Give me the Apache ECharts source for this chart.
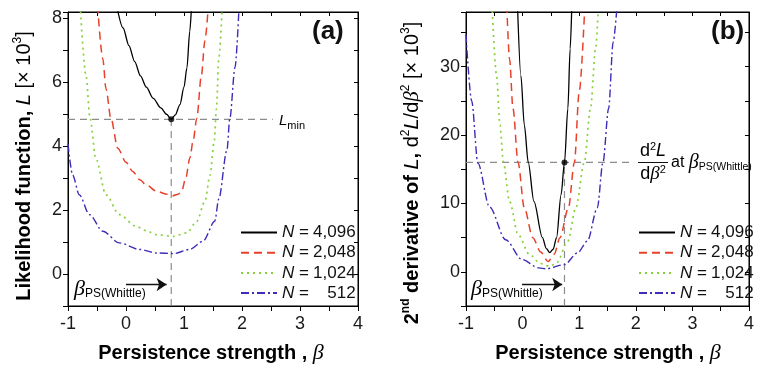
<!DOCTYPE html>
<html><head><meta charset="utf-8">
<script src="https://cdn.jsdelivr.net/npm/echarts@6/dist/echarts.min.js"></script>
<style>html,body{margin:0;padding:0;background:#fff}#c{width:757px;height:365px}</style>
</head><body><div id="c"></div>
<script>
const SANS = 'Liberation Sans, Arial, Helvetica, sans-serif';
const SERIF = 'Liberation Serif, Times New Roman, serif';

// ---- data ----
const xTicks = [-1, 0, 1, 2, 3, 4];
const legendLabels = ['4,096', '2,048', '1,024', '512'];

// Panel (a): likelihood function L [x10^3]
const aX4096 = [-0.16, -0.05, 0.05, 0.15, 0.25, 0.35, 0.47, 0.6, 0.7, 0.78, 0.85, 0.93, 1.0, 1.05, 1.1, 1.13];
const aY4096 = [8.4, 7.7, 7.15, 6.65, 6.2, 5.85, 5.5, 5.2, 5.0, 4.84, 4.98, 5.3, 5.85, 6.45, 7.6, 8.4];
const aX2048 = [-0.49, -0.4, -0.345, -0.26, -0.14, 0.0, 0.115, 0.24, 0.345, 0.53, 0.7, 0.8, 0.9, 0.96, 1.03, 1.10, 1.16, 1.22, 1.30, 1.36, 1.42];
const aY2048 = [8.4, 6.74, 5.8, 4.87, 3.93, 3.5, 3.21, 2.95, 2.79, 2.59, 2.5, 2.45, 2.5, 2.6, 3.0, 3.62, 4.2, 4.87, 6.22, 7.3, 8.4];
const aX1024 = [-0.79, -0.69, -0.62, -0.52, -0.345, -0.115, 0.17, 0.345, 0.53, 0.82, 1.05, 1.22, 1.36, 1.45, 1.52, 1.56, 1.60, 1.66];
const aY1024 = [8.4, 6.22, 4.87, 3.62, 2.48, 1.86, 1.50, 1.36, 1.23, 1.18, 1.29, 1.65, 2.27, 3.10, 4.14, 5.18, 6.74, 8.4];
const aX512 = [-1, -0.92, -0.805, -0.63, -0.40, -0.115, 0.23, 0.53, 0.82, 1.10, 1.33, 1.53, 1.60, 1.74, 1.79, 1.88, 1.95];
const aY512 = [4.08, 3.10, 2.48, 1.86, 1.34, 0.975, 0.77, 0.66, 0.64, 0.77, 1.03, 1.65, 2.35, 3.87, 4.86, 6.47, 8.4];
const aBeta = 0.78, aLmin = 4.84, aRefEnd = 2.53, aArrowY = -0.33, aArrowX = [0.0, 0.70];

// Panel (b): second derivative d2L/dbeta2 [x10^3]
const bX4096 = [-0.09, -0.03, 0.03, 0.10, 0.20, 0.35, 0.42, 0.48, 0.54, 0.60, 0.68, 0.74, 0.80, 0.84, 0.87];
const bY4096 = [39, 28.7, 21.5, 16.0, 10.3, 5.0, 3.4, 2.8, 3.3, 5.0, 11.3, 16.0, 23.9, 32.6, 39];
const bX2048 = [-0.28, -0.23, -0.17, -0.08, 0.03, 0.18, 0.32, 0.45, 0.56, 0.66, 0.81, 0.915, 1.0, 1.10];
const bY2048 = [39, 31.1, 23.9, 16.0, 9.35, 5.0, 2.9, 1.5, 2.6, 5.0, 9.35, 16.0, 26.3, 39];
const bX1024 = [-0.54, -0.46, -0.40, -0.34, -0.23, -0.08, 0.12, 0.30, 0.40, 0.48, 0.60, 0.80, 0.94, 1.09, 1.20, 1.29, 1.34];
const bY1024 = [39, 28.7, 21.5, 16.0, 10.3, 5.47, 2.56, 1.3, 0.95, 0.8, 1.3, 4.5, 9.35, 16.0, 23.9, 32.6, 39];
const bX512 = [-1, -0.90, -0.79, -0.585, -0.30, -0.01, 0.28, 0.42, 0.74, 0.97, 1.145, 1.32, 1.42, 1.52, 1.60, 1.67];
const bY512 = [34.7, 25.0, 15.9, 9.5, 4.7, 1.8, 0.58, 0.44, 1.06, 2.76, 4.5, 9.35, 16.0, 23.9, 33.6, 39];
const bBeta = 0.74, bD2 = 16, bRefEnd = 1.92, bArrowY = -1.85, bArrowX = [-0.01, 0.70];

// ---- helpers ----
const zip = (xs, ys) => xs.map((x, i) => [x, ys[i]]);
const styles = [
  {color: '#000000', type: 'solid', width: 1.3},
  {color: '#e8412a', type: [8, 5], width: 1.5},
  {color: '#86d13a', type: [2, 4], width: 1.7},
  {color: '#3b2db8', type: [8, 3, 2, 3], width: 1.4}
];
const namesA = ['a0', 'a1', 'a2', 'a3'];
const namesB = ['b0', 'b1', 'b2', 'b3'];
const dataA = [zip(aX4096, aY4096), zip(aX2048, aY2048), zip(aX1024, aY1024), zip(aX512, aY512)];
const dataB = [zip(bX4096, bY4096), zip(bX2048, bY2048), zip(bX1024, bY1024), zip(bX512, bY512)];

function curve(name, data, s, gi) {
  return {
    name, type: 'line', xAxisIndex: gi, yAxisIndex: gi, data, smooth: 0.3, smoothMonotone: 'x',
    symbol: 'none', clip: true, z: 5,
    lineStyle: {color: s.color, type: s.type, width: s.width}, itemStyle: {color: s.color}
  };
}
const refStyle = {color: '#8c8c8c', type: [7, 5], width: 1.2};
function refLine(data, gi) {
  return {type: 'line', xAxisIndex: gi, yAxisIndex: gi, data, symbol: 'none', silent: true, z: 3,
    lineStyle: refStyle};
}
function arrowLine(pts, gi) {
  return {type: 'lines', coordinateSystem: 'cartesian2d', xAxisIndex: gi, yAxisIndex: gi, silent: true, z: 6,
    symbol: ['none', 'arrow'], symbolSize: 10,
    lineStyle: {color: '#111', type: 'solid', width: 1.3, opacity: 1},
    data: [{coords: pts}]};
}

const series = [];
for (let i = 0; i < 4; i++) series.push(curve(namesA[i], dataA[i], styles[i], 0));
for (let i = 0; i < 4; i++) series.push(curve(namesB[i], dataB[i], styles[i], 1));
series.push(refLine([[-1, aLmin], [aRefEnd, aLmin]], 0));
series.push(refLine([[aBeta, -1], [aBeta, aLmin]], 0));
series.push(refLine([[-1, bD2], [bRefEnd, bD2]], 1));
series.push(refLine([[bBeta, -5], [bBeta, bD2]], 1));
series.push(arrowLine([[aArrowX[0], aArrowY], [aArrowX[1], aArrowY]], 0));
series.push(arrowLine([[bArrowX[0], bArrowY], [bArrowX[1], bArrowY]], 1));
series.push({type: 'scatter', xAxisIndex: 0, yAxisIndex: 0, data: [[aBeta, aLmin]], symbolSize: 6, itemStyle: {color: '#000'}, z: 10, silent: true});
series.push({type: 'scatter', xAxisIndex: 1, yAxisIndex: 1, data: [[bBeta, bD2]], symbolSize: 6, itemStyle: {color: '#000'}, z: 10, silent: true});

const axisCol = '#000';
const isInt = v => Math.abs(v - Math.round(v)) < 1e-9;
function xBottom(gi) {
  return {type: 'value', gridIndex: gi, min: -1, max: 4, interval: 0.5, position: 'bottom',
    axisLine: {onZero: false, lineStyle: {color: axisCol, width: 1}},
    axisTick: {show: true, inside: false, length: 5, lineStyle: {color: axisCol}},
    axisLabel: {fontFamily: SANS, fontSize: 18, color: '#1a1a1a', margin: 9,
      formatter: v => (isInt(v) && xTicks.includes(Math.round(v))) ? String(Math.round(v)) : ''},
    splitLine: {show: false}};
}
function xTop(gi) {
  return {type: 'value', gridIndex: gi, min: -1, max: 4, interval: 0.5, position: 'top',
    axisLine: {onZero: false, lineStyle: {color: axisCol}}, axisTick: {inside: true, length: 4, lineStyle: {color: axisCol}},
    axisLabel: {show: false}, splitLine: {show: false}};
}
function yLeft(gi, min, max, iv, step) {
  return {type: 'value', gridIndex: gi, min, max, interval: iv, position: 'left',
    axisLine: {show: true, onZero: false, lineStyle: {color: axisCol}},
    axisTick: {show: true, inside: false, length: 5, lineStyle: {color: axisCol}},
    axisLabel: {fontFamily: SANS, fontSize: 18, color: '#1a1a1a', margin: 6,
      formatter: v => (isInt(v) && v >= 0 && Math.round(v) % step === 0) ? String(Math.round(v)) : ''},
    splitLine: {show: false}};
}
function yRight(gi, min, max, iv) {
  return {type: 'value', gridIndex: gi, min, max, interval: iv, position: 'right',
    axisLine: {show: true, onZero: false, lineStyle: {color: axisCol}},
    axisTick: {show: true, inside: true, length: 4, lineStyle: {color: axisCol}},
    axisLabel: {show: false}, splitLine: {show: false}};
}

const legendRich = {
  i: {fontFamily: SANS, fontStyle: 'italic', fontSize: 17, color: '#111'},
  t: {fontFamily: SANS, fontSize: 17, color: '#111'},
  n: {fontFamily: SANS, fontSize: 17, color: '#111', width: 42, align: 'right'}
};
function legend(names, left) {
  return {data: names, orient: 'vertical', left, top: 224, itemWidth: 36, itemHeight: 12, itemGap: 3.2,
    selectedMode: false, padding: 0, itemStyle: {opacity: 0},
    formatter: name => '{i|N}{t| = }{n|' + legendLabels[+name.slice(1)] + '}',
    textStyle: {rich: legendRich, padding: [0, 0, 0, 0]}};
}

// rich text styles for titles / labels
const R = {
  b: {fontFamily: SANS, fontWeight: 'bold', fontSize: 20, color: '#111', lineHeight: 24, verticalAlign: 'middle'},
  bsup: {fontFamily: SANS, fontWeight: 'bold', fontSize: 12, color: '#111', lineHeight: 15, verticalAlign: 'top'},
  r: {fontFamily: SANS, fontSize: 20, color: '#111', lineHeight: 24, verticalAlign: 'middle'},
  ri: {fontFamily: SANS, fontStyle: 'italic', fontSize: 20, color: '#111', lineHeight: 24, verticalAlign: 'middle'},
  rb: {fontFamily: SERIF, fontStyle: 'italic', fontSize: 21, color: '#111', lineHeight: 24, verticalAlign: 'middle'},
  sup: {fontFamily: SANS, fontSize: 12, color: '#111', lineHeight: 15, verticalAlign: 'top'},
  bt: {fontFamily: SERIF, fontStyle: 'italic', fontSize: 22, color: '#111', lineHeight: 24, verticalAlign: 'middle'}
};

const graphic = [
  {type: 'text', x: 312, y: 19, style: {text: '(a)', fontFamily: SANS, fontWeight: 'bold', fontSize: 26, fill: '#111'}},
  {type: 'text', x: 711, y: 19, style: {text: '(b)', fontFamily: SANS, fontWeight: 'bold', fontSize: 26, fill: '#111'}},
  // y titles
  {type: 'text', x: 24, y: 166, rotation: Math.PI / 2,
    style: {text: '{b|Likelihood function, }{ri|L}{r| [× 10}{sup|3}{r|]}', rich: R, align: 'center', verticalAlign: 'middle'}},
  {type: 'text', x: 412, y: 173, rotation: Math.PI / 2,
    style: {text: '{b|2}{bsup|nd}{b| derivative of }{ri|L}{b|, }{r|d}{sup|2}{ri|L}{r|/d}{rb|β}{sup|2}{r| [× 10}{sup|3}{r|]}', rich: R, align: 'center', verticalAlign: 'middle'}},
  // x titles
  {type: 'text', x: 211, y: 353, style: {text: '{b|Persistence strength , }{bt|β}', rich: R, align: 'center', verticalAlign: 'middle'}},
  {type: 'text', x: 608, y: 353, style: {text: '{b|Persistence strength , }{bt|β}', rich: R, align: 'center', verticalAlign: 'middle'}},
  // L_min
  {type: 'text', x: 279, y: 122, style: {text: '{L|L}{s|min}', verticalAlign: 'middle', rich: {
    L: {fontFamily: SANS, fontStyle: 'italic', fontSize: 15, color: '#111', lineHeight: 18, verticalAlign: 'top'},
    s: {fontFamily: SANS, fontSize: 11, color: '#111', lineHeight: 12, verticalAlign: 'bottom'}}}},
  // beta labels
  {type: 'text', x: 74, y: 289, style: {text: '{B|β}{s|PS(Whittle)}', verticalAlign: 'middle', rich: {
    B: {fontFamily: SERIF, fontStyle: 'italic', fontSize: 22, color: '#111', lineHeight: 22, verticalAlign: 'top'},
    s: {fontFamily: SANS, fontSize: 12, color: '#111', lineHeight: 14, verticalAlign: 'bottom'}}}},
  {type: 'text', x: 471, y: 289, style: {text: '{B|β}{s|PS(Whittle)}', verticalAlign: 'middle', rich: {
    B: {fontFamily: SERIF, fontStyle: 'italic', fontSize: 22, color: '#111', lineHeight: 22, verticalAlign: 'top'},
    s: {fontFamily: SANS, fontSize: 12, color: '#111', lineHeight: 14, verticalAlign: 'bottom'}}}},
  // fraction d2L/dbeta2 at beta_PS(Whittle)
  {type: 'text', x: 653, y: 151, style: {text: '{r|d}{s|2}{i|L}', align: 'center', verticalAlign: 'middle', rich: {
    r: {fontFamily: SANS, fontSize: 18, color: '#111', lineHeight: 20, verticalAlign: 'middle'},
    i: {fontFamily: SANS, fontStyle: 'italic', fontSize: 18, color: '#111', lineHeight: 20, verticalAlign: 'middle'},
    s: {fontFamily: SANS, fontSize: 11, color: '#111', lineHeight: 13, verticalAlign: 'top'}}}},
  {type: 'line', shape: {x1: 638, y1: 162.5, x2: 668, y2: 162.5}, style: {stroke: '#111', lineWidth: 1}},
  {type: 'text', x: 653, y: 174, style: {text: '{r|d}{b|β}{s|2}', align: 'center', verticalAlign: 'middle', rich: {
    r: {fontFamily: SANS, fontSize: 18, color: '#111', lineHeight: 20, verticalAlign: 'middle'},
    b: {fontFamily: SERIF, fontStyle: 'italic', fontSize: 19, color: '#111', lineHeight: 20, verticalAlign: 'middle'},
    s: {fontFamily: SANS, fontSize: 11, color: '#111', lineHeight: 13, verticalAlign: 'top'}}}},
  {type: 'text', x: 671, y: 163, style: {text: '{a|at }{B|β}{s|PS(Whittle)}', verticalAlign: 'middle', rich: {
    a: {fontFamily: SANS, fontSize: 16, color: '#111', lineHeight: 20, verticalAlign: 'middle'},
    B: {fontFamily: SERIF, fontStyle: 'italic', fontSize: 20, color: '#111', lineHeight: 20, verticalAlign: 'middle'},
    s: {fontFamily: SANS, fontSize: 10.5, color: '#111', lineHeight: 12, verticalAlign: 'bottom'}}}}
];

const option = {
  backgroundColor: '#fff',
  animation: false,
  grid: [
    {left: 68, top: 12, width: 290, height: 294, show: true, borderColor: '#000', borderWidth: 1},
    {left: 466, top: 12, width: 289, height: 294, show: true, borderColor: '#000', borderWidth: 1}
  ],
  xAxis: [xBottom(0), xBottom(1), xTop(0), xTop(1)],
  yAxis: [yLeft(0, -1, 8.2, 1, 2), yLeft(1, -5, 38, 5, 10), yRight(0, -1, 8.2, 1), yRight(1, -5, 38, 5)],
  legend: [legend(namesA, 240), legend(namesB, 638)],
  series,
  graphic
};
const chart = echarts.init(document.getElementById('c'), null, {renderer: 'canvas'});
chart.setOption(option);
</script>
</body></html>
